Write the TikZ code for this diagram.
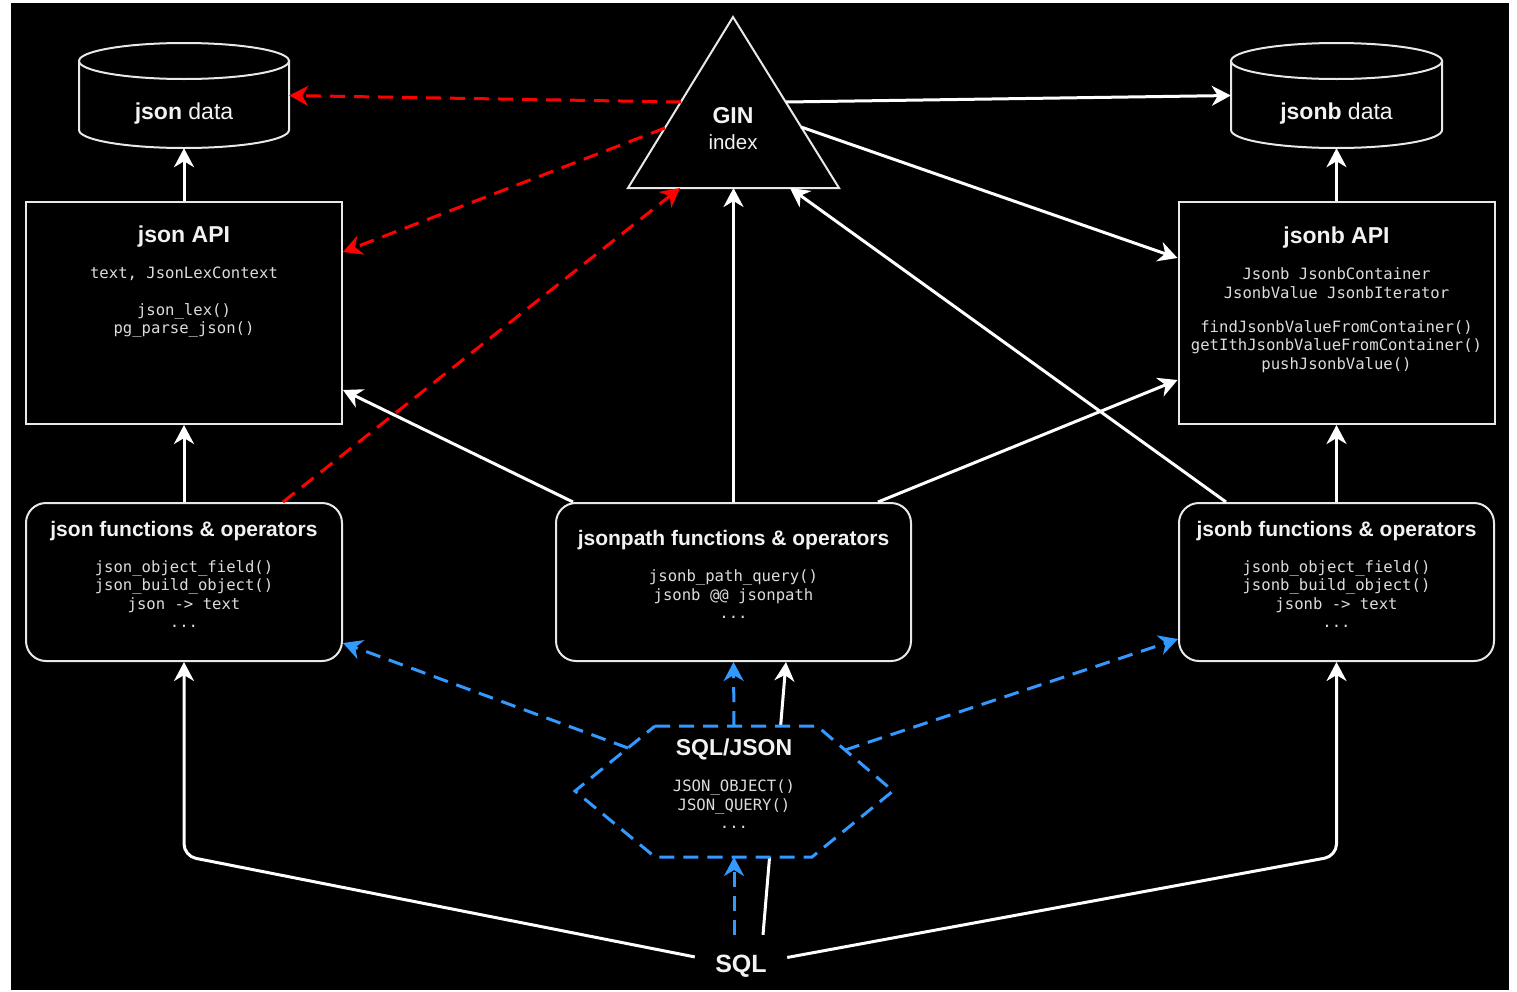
\documentclass[tikz,border=0pt]{standalone}
\usepackage{fontspec}
\setmainfont{Liberation Sans}
\newfontfamily\codefont{DejaVu Sans Mono}
\usetikzlibrary{arrows.meta,calc}
\definecolor{ink}{HTML}{F2F2F2}
\definecolor{codeink}{HTML}{DCDCDC}
\definecolor{edge}{HTML}{E8E8E8}
\definecolor{redline}{HTML}{FF0000}
\definecolor{blueline}{HTML}{3399FF}

\begin{document}
\begin{tikzpicture}[x=1pt,y=-1pt,
  apibox/.style={draw=edge, line width=2pt, minimum width=316pt, minimum height=222pt, inner sep=0pt},
  fnbox/.style={draw=edge, line width=2pt, rounded corners=20pt, minimum height=158pt, inner sep=0pt},
  datanode/.style={minimum height=105pt, inner sep=0pt},
  cyl/.style={draw=edge, line width=2pt, fill=black},
  ttl/.style={text=ink, font=\fontsize{23}{27}\selectfont, inner sep=0pt, anchor=base},
  fnttl/.style={text=ink, font=\fontsize{21}{25}\selectfont\bfseries, inner sep=0pt, anchor=base},
  code/.style={text=codeink, font=\fontsize{15.6}{18.5}\selectfont\codefont, align=center, inner sep=0pt, anchor=north},
  headtip/.style={-{Stealth[length=19pt,width=20pt,inset=6pt]}},
  wline/.style={draw=white, line width=3pt, headtip},
  rline/.style={draw=redline, line width=3pt, dash pattern=on 15pt off 9pt, headtip},
  bline/.style={draw=blueline, line width=3pt, dash pattern=on 15pt off 9pt, headtip}
]
% canvas
\fill[white] (0,0) rectangle (1517,991);
\fill[black] (11,3) rectangle (1509,990);
\useasboundingbox (0,0) rectangle (1517,991);

% data stores (cylinders)
\node[datanode, minimum width=210pt] (jdata) at (184,95.5) {};
\node[datanode, minimum width=211pt] (jbdata) at (1336.5,95.5) {};
\foreach \c/\r in {184/105, 1336.5/105.5} {
  \path[cyl] (\c-\r,61) -- (\c-\r,130) arc[start angle=180, end angle=0, x radius=\r, y radius=18] -- (\c+\r,61) -- cycle;
  \draw[cyl] (\c,61) ellipse[x radius=\r, y radius=18];
}
\node[ttl] (jdata-t) at (184,119) {\bfseries json\mdseries\ data};
\node[ttl] (jbdata-t) at (1336.5,119) {\bfseries jsonb\mdseries\ data};

% GIN index triangle
\draw[draw=edge, line width=2pt, fill=black, line join=miter] (733,17) -- (839,188) -- (628,188) -- cycle;
\node[ttl, font=\fontsize{23}{27}\selectfont\bfseries] (gin) at (733,123) {GIN};
\node[ttl, font=\fontsize{20.5}{24}\selectfont] (gin-sub) at (733,149) {index};
\coordinate (ginR1) at (786,102);
\coordinate (ginR2) at (801,127);
\coordinate (ginL1) at (681,102);
\coordinate (ginL2) at (665,128);
\coordinate (ginB)  at (733.5,188);
\coordinate (ginBL) at (680,188);
\coordinate (ginBR) at (790,188);

% API boxes
\node[apibox] (japi) at (184,313) {};
\node[apibox] (jbapi) at (1336.5,313) {};
\node[ttl, font=\fontsize{23}{27}\selectfont\bfseries] (japi-t) at (184,242) {json API};
\node[ttl, font=\fontsize{23}{27}\selectfont\bfseries] (jbapi-t) at (1336.5,243) {jsonb API};
\node[code] (japi-c) at (184,265) {\strut text, JsonLexContext\\[18.5pt] json\_lex()\\ pg\_parse\_json()};
\node[code] (jbapi-c) at (1336.5,266.5) {\strut Jsonb JsonbContainer\\ JsonbValue JsonbIterator\\[15.5pt] findJsonbValueFromContainer()\\ getIthJsonbValueFromContainer()\\ pushJsonbValue()};

% function boxes
\node[fnbox, minimum width=316pt] (jfun) at (184,582) {};
\node[fnbox, minimum width=355pt] (jp) at (733.5,582) {};
\node[fnbox, minimum width=315pt] (jbfun) at (1336.5,582) {};
\node[fnttl] (jfun-t) at (184,536) {json functions \& operators};
\node[fnttl] (jp-t) at (733.5,545) {jsonpath functions \& operators};
\node[fnttl] (jbfun-t) at (1336.5,536) {jsonb functions \& operators};
\node[code] (jfun-c) at (184,559) {\strut json\_object\_field()\\ json\_build\_object()\\ json -> text\\ ...};
\node[code] (jp-c) at (733.5,568.7) {\strut jsonb\_path\_query()\\ jsonb @@ jsonpath\\ ...};
\node[code] (jbfun-c) at (1336.5,559) {\strut jsonb\_object\_field()\\ jsonb\_build\_object()\\ jsonb -> text\\ ...};

% SQL entry point
\node[text=ink, font=\fontsize{25}{30}\selectfont\bfseries, minimum width=92pt, minimum height=62pt, inner sep=0pt] (sql) at (741,966) {SQL};

% SQL straight to jsonpath, passing behind the SQL/JSON hexagon
\draw[wline] ([xshift=22pt]sql.north) -- ([xshift=52.5pt]jp.south);

% SQL/JSON hexagon
\draw[draw=blueline, line width=3pt, dash pattern=on 15pt off 9pt, fill=black]
  (655,726) -- (817,726) -- (893,791) -- (812,857) -- (655,857) -- (575,791) -- cycle;
\node[ttl, font=\fontsize{23}{27}\selectfont\bfseries] (sqljson) at (734,755) {SQL/JSON};
\node[code] (sqljson-c) at (734,778.7) {\strut JSON\_OBJECT()\\ JSON\_QUERY()\\ ...};
\coordinate (hxtop) at (734,726);
\coordinate (hxbot) at (734,857);
\coordinate (hxl) at (628,748);
\coordinate (hxr) at (845,750);

% vertical stacks
\draw[wline] (japi.north) -- (jdata.south);
\draw[wline] (jbapi.north) -- (jbdata.south);
\draw[wline] (jfun.north) -- (japi.south);
\draw[wline] (jbfun.north) -- (jbapi.south);

% GIN index links
\draw[wline] (ginR1) -- (jbdata.west);
\draw[wline] (ginR2) -- ([yshift=55pt]jbapi.west);
\draw[rline] (ginL1) -- (jdata.east);
\draw[rline] (ginL2) -- ([yshift=61pt]japi.east);
\draw[rline] ([xshift=99pt]jfun.north) -- (ginBL);
\draw[wline] (jp.north) -- (ginB);
\draw[wline] ([xshift=-110.5pt]jbfun.north) -- (ginBR);

% jsonpath to both APIs
\draw[wline] ([xshift=-160.5pt]jp.north) -- ([yshift=-77pt]japi.east);
\draw[wline] ([xshift=144.5pt]jp.north) -- ([yshift=-67pt]jbapi.west);

% SQL/JSON links
\draw[bline] (hxl) -- ([yshift=-61pt]jfun.east);
\draw[bline] (hxr) -- ([yshift=-57pt]jbfun.west);
\draw[bline] (hxtop) -- (jp.south);
\draw[bline] ([xshift=-7pt]sql.north) -- (hxbot);

% SQL to the function families
\draw[wline, rounded corners=12pt] (sql) -- (184,856) -- (jfun.south);
\draw[wline, rounded corners=12pt] (sql) -- (1336.5,856) -- (jbfun.south);
\end{tikzpicture}
\end{document}
